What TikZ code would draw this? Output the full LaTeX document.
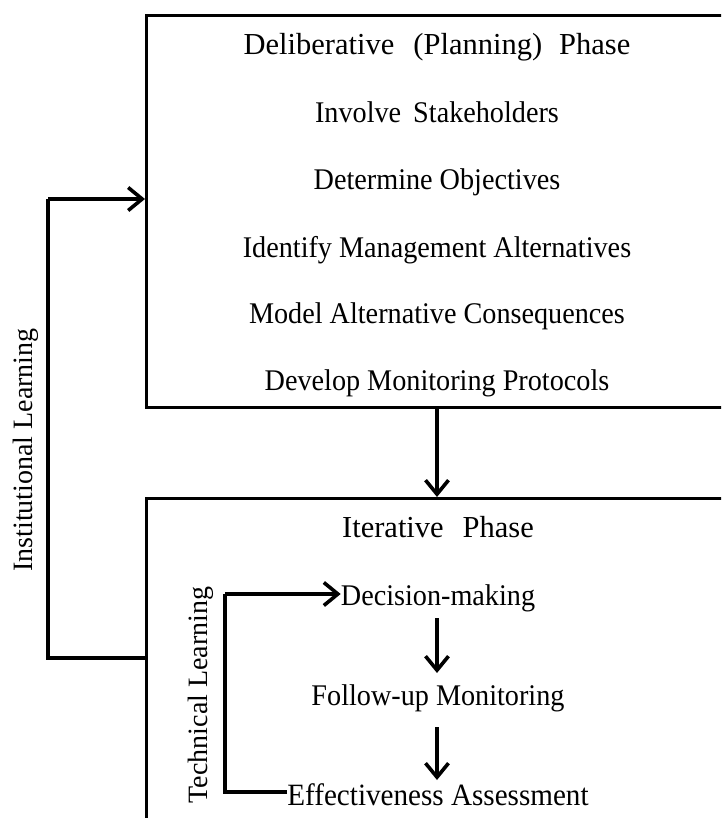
\documentclass[tikz,border=0pt]{standalone}
\usepackage{fontspec}
\setmainfont[FakeStretch=0.94]{Liberation Serif}
\newfontfamily\plainfont{Liberation Serif}
\usetikzlibrary{arrows.meta}
\begin{document}
\begin{tikzpicture}[x=1pt,y=1pt,
  phasebox/.style={draw, line width=2.8pt, anchor=north west, minimum width=640pt, inner sep=0pt},
  txt/.style={font=\fontsize{30}{34}\selectfont, inner sep=0pt, anchor=base},
  headtxt/.style={font=\plainfont\fontsize{30.5}{34}\selectfont, inner sep=0pt, anchor=base},
  side/.style={font=\plainfont\fontsize{28}{32}\selectfont, inner sep=0pt, rotate=90},
  conn/.style={line width=3.6pt, -{Straight Barb[length=14pt,width=23pt,line width=3.6pt]}},
  plain/.style={line width=3.6pt}]
\useasboundingbox (0,0) rectangle (721,-818);
\clip (0,0) rectangle (721,-818);
% boxes
\node[phasebox, minimum height=392pt] (top) at (145,-14) {};
\node[phasebox, minimum height=400pt] (bot) at (145,-497) {};
% top texts
\node[headtxt] (t0) at (437,-55) {Deliberative\hspace{19pt}(Planning)\hspace{17pt}Phase};
\node[txt] (t1) at (437,-123) {Involve\hspace{12pt}Stakeholders};
\node[txt] (t2) at (437,-190) {Determine Objectives};
\node[txt] (t3) at (437,-257) {Identify Management Alternatives};
\node[txt] (t4) at (437,-323) {Model Alternative Consequences};
\node[txt] (t5) at (437,-390) {Develop Monitoring Protocols};
% bottom texts
\node[headtxt] (b0) at (438,-537) {Iterative\hspace{19pt}Phase};
\node[txt] (b1) at (438,-605) {Decision-making};
\node[txt] (b2) at (438,-705) {Follow-up Monitoring};
\node[txt, font=\fontsize{31}{34}\selectfont] (b3) at (438,-805) {Effectiveness Assessment};
% side labels
\node[side] (il) at (26,-450) {Institutional Learning};
\node[side] (tl) at (201,-695) {Technical Learning};
% connectors
\draw[conn] (top.south -| 437,0) -- (bot.north -| 437,0);
\coordinate (ilb) at (48,-658);
\coordinate (ilt) at (48,-199);
\draw[plain] (bot.west |- ilb) -- (ilb) -- (ilt);
\draw[conn] (ilt) -- (top.west |- ilt);
\coordinate (tlt) at (225,-594);
\coordinate (tlb) at (225,-792);
\draw[plain] (b3.west |- tlb) -- (tlb) -- (tlt);
\draw[conn] (tlt) -- (b1.west |- tlt);
\coordinate (a1s) at (437,-618);
\coordinate (a1e) at (437,-673);
\coordinate (a2s) at (437,-727);
\coordinate (a2e) at (437,-780);
\draw[conn] (a1s) -- (a1e);
\draw[conn] (a2s) -- (a2e);
\end{tikzpicture}
\end{document}
